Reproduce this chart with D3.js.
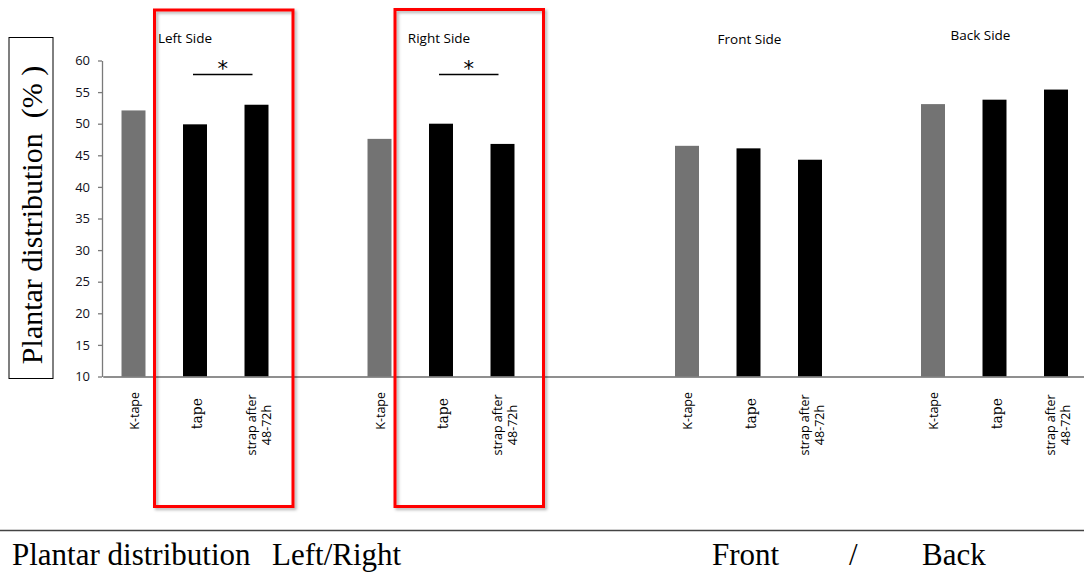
<!DOCTYPE html>
<html>
<head>
<meta charset="utf-8">
<script src="https://cdn.jsdelivr.net/npm/d3@7/dist/d3.min.js"></script>
<style>
  html, body { margin: 0; padding: 0; background: #fff; }
  svg { display: block; }
</style>
</head>
<body>
<svg id="chart" width="1084" height="574"></svg>
<script>
// ---------- data ----------
const groups = ["Left Side", "Right Side", "Front Side", "Back Side"];
const conditions = ["K-tape", "tape", "strap after 48-72h"];
const conditionLines = [["K-tape"], ["tape"], ["strap after", "48-72h"]];
const leftSide = [52.1, 49.9, 53.0];
const rightSide = [47.6, 50.0, 46.8];
const frontSide = [46.5, 46.1, 44.3];
const backSide = [53.1, 53.8, 55.4];
const yTicks = [10, 15, 20, 25, 30, 35, 40, 45, 50, 55, 60];
const yTitle = "Plantar distribution\u00a0\u00a0(%\u00a0)";
const significance = [
  { group: "Left Side", from: "tape", to: "strap after 48-72h", label: "*" },
  { group: "Right Side", from: "tape", to: "strap after 48-72h", label: "*" }
];
const highlighted = ["Left Side", "Right Side"];
const footer = ["Plantar distribution", "Left/Right", "Front", "/", "Back"];

// ---------- layout ----------
const seriesByGroup = [leftSide, rightSide, frontSide, backSide];
const gapsBefore = [0, 1, 2, 1];          // empty slots before each group
const titleShift = [-10, -2, 1, -14];     // small offsets of group titles
const titleY = [43, 43, 44, 40];
const boxPad = [[28.5, 24.5, 10], [34, 29, 9.5]];
const footerX = [12, 272, 712, 849, 922];

const svg = d3.select("#chart");
const defs = svg.append("defs");
const f = defs.append("filter").attr("id", "shadow")
  .attr("x", "-10%").attr("y", "-10%").attr("width", "130%").attr("height", "130%");
f.append("feDropShadow").attr("dx", 2).attr("dy", 2).attr("stdDeviation", 1.5)
  .attr("flood-color", "#000").attr("flood-opacity", 0.3);

// slot keys
const slotKeys = [];
const rows = [];
groups.forEach((g, gi) => {
  for (let k = 0; k < gapsBefore[gi]; k++) slotKeys.push(`gap-${gi}-${k}`);
  conditions.forEach((c, ci) => {
    const key = `${g}|${c}`;
    slotKeys.push(key);
    rows.push({ group: g, gi, cond: c, ci, key, value: seriesByGroup[gi][ci] });
  });
});

const x = d3.scaleBand().domain(slotKeys).range([102.75, 1086.75])
  .paddingInner(0.61).paddingOuter(0.305);
const y = d3.scaleLinear().domain([10, 60]).range([376.5, 60.5]);

// ---------- y axis ----------
const yAxis = svg.append("g").attr("transform", "translate(102,0)")
  .call(d3.axisLeft(y).tickValues(yTicks).tickSize(4).tickSizeOuter(0).tickPadding(8));
yAxis.select(".domain").attr("stroke", "#7a7a7a").attr("stroke-width", 1.3);
yAxis.selectAll(".tick line").attr("stroke", "#7a7a7a").attr("stroke-width", 1.3);
yAxis.selectAll(".tick text")
  .attr("font-family", "Open Sans, sans-serif").attr("font-size", 13)
  .attr("fill", "#101020");

// ---------- bars ----------
svg.append("g").selectAll("rect").data(rows).join("rect")
  .attr("x", d => x(d.key))
  .attr("width", x.bandwidth())
  .attr("y", d => y(d.value))
  .attr("height", d => y(10) - y(d.value))
  .attr("fill", d => d.ci === 0 ? "#737373" : "#000");

// ---------- x axis ----------
const xAxis = svg.append("g").attr("transform", `translate(0,${y(10)})`)
  .call(d3.axisBottom(x).tickSize(0).tickFormat(""));
xAxis.select(".domain").attr("stroke", "#6a6a6a").attr("stroke-width", 1.3);

// x labels (rotated)
const lab = svg.append("g");
rows.forEach(d => {
  const cx = x(d.key) + x.bandwidth() / 2;
  const lines = conditionLines[d.ci];
  if (d.ci === 0) {
    lab.append("text")
      .attr("transform", `translate(${cx + 5},392) rotate(-90)`)
      .attr("text-anchor", "end")
      .attr("font-family", "Open Sans, sans-serif").attr("font-size", 12.5)
      .attr("fill", "#000").text(lines[0]);
  } else if (d.ci === 1) {
    lab.append("text")
      .attr("transform", `translate(${cx + 7},398) rotate(-90)`)
      .attr("text-anchor", "end")
      .attr("font-family", "DejaVu Serif, serif").attr("font-size", 14)
      .attr("fill", "#000").text(lines[0]);
  } else {
    const t = lab.append("text")
      .attr("transform", `translate(${cx - 1},425) rotate(-90)`)
      .attr("text-anchor", "middle")
      .attr("font-family", "Open Sans, sans-serif").attr("font-size", 12.5)
      .attr("fill", "#000");
    lines.forEach((ln, i) => {
      t.append("tspan").attr("x", 0).attr("dy", i === 0 ? 0 : 15).text(ln);
    });
  }
});

// ---------- group titles ----------
groups.forEach((g, gi) => {
  const mid = x(`${g}|${conditions[1]}`) + x.bandwidth() / 2;
  svg.append("text")
    .attr("x", mid + titleShift[gi]).attr("y", titleY[gi])
    .attr("text-anchor", "middle")
    .attr("font-family", "Open Sans, sans-serif").attr("font-size", 13.5)
    .attr("fill", "#000").text(g);
});

// ---------- significance ----------
significance.forEach(s => {
  const x1 = x(`${s.group}|${s.from}`) + x.bandwidth() / 2 - 2;
  const x2 = x(`${s.group}|${s.to}`) + x.bandwidth() / 2 - 4;
  svg.append("line").attr("x1", x1).attr("x2", x2).attr("y1", 74.5).attr("y2", 74.5)
    .attr("stroke", "#000").attr("stroke-width", 1.3);
  svg.append("text").attr("x", (x1 + x2) / 2).attr("y", 76)
    .attr("text-anchor", "middle")
    .attr("font-family", "DejaVu Sans, sans-serif").attr("font-size", 21)
    .attr("fill", "#000").text(s.label);
});

// ---------- red highlight boxes ----------
highlighted.forEach((g, i) => {
  const x0 = x(`${g}|${conditions[1]}`) - boxPad[i][0];
  const x1 = x(`${g}|${conditions[2]}`) + x.bandwidth() + boxPad[i][1];
  svg.append("rect")
    .attr("x", x0).attr("y", boxPad[i][2]).attr("width", x1 - x0).attr("height", 506.5 - boxPad[i][2])
    .attr("fill", "none").attr("stroke", "#ff0000").attr("stroke-width", 3)
    .attr("filter", "url(#shadow)");
});

// ---------- y title with frame ----------
svg.append("rect").attr("x", 9).attr("y", 37.5).attr("width", 44).attr("height", 341)
  .attr("fill", "none").attr("stroke", "#000").attr("stroke-width", 1);
svg.append("text")
  .attr("transform", "translate(42,215) rotate(-90)")
  .attr("text-anchor", "middle")
  .attr("font-family", "Liberation Serif, serif").attr("font-size", 30)
  .attr("fill", "#000").text(yTitle);

// ---------- footer ----------
svg.append("line").attr("x1", 0).attr("x2", 1084).attr("y1", 530.5).attr("y2", 530.5)
  .attr("stroke", "#444").attr("stroke-width", 1.3);
footer.forEach((t, i) => {
  svg.append("text").attr("x", footerX[i]).attr("y", 565)
    .attr("font-family", "Liberation Serif, serif").attr("font-size", 31)
    .attr("fill", "#000").text(t);
});
</script>
</body>
</html>
